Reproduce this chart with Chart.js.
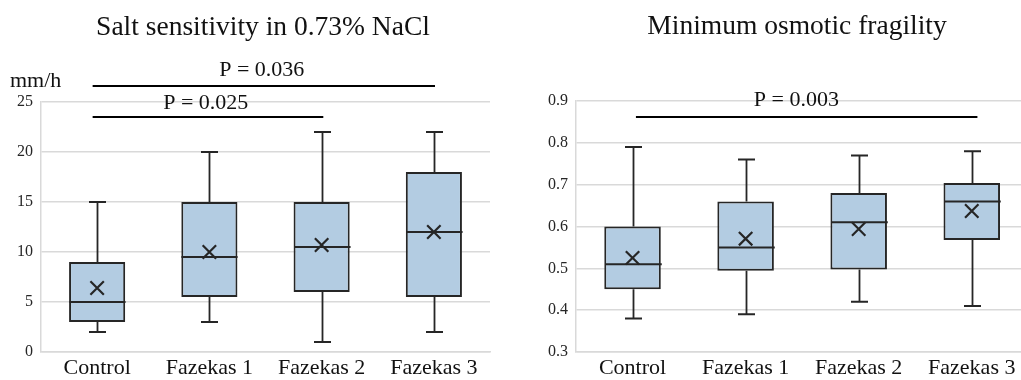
<!DOCTYPE html>
<html><head><meta charset="utf-8">
<script src="https://cdn.jsdelivr.net/npm/chart.js@4/dist/chart.umd.min.js"></script>
<style>
html,body{margin:0;padding:0;background:#fff;width:1021px;height:380px;overflow:hidden}
#wrapL{position:absolute;left:0;top:0;width:510px;height:380px}
#wrapR{position:absolute;left:510px;top:0;width:511px;height:380px;overflow:hidden}
canvas{display:block}
</style></head><body>
<div id="wrapL"><canvas id="cL" width="510" height="380"></canvas></div>
<div id="wrapR"><canvas id="cR" width="530" height="380"></canvas></div>
<script>
// ---------- data ----------
const categories = ['Control', 'Fazekas 1', 'Fazekas 2', 'Fazekas 3'];

const saltTitle = 'Salt sensitivity in 0.73% NaCl';
const saltUnit = 'mm/h';
const saltMin    = [2, 3, 1, 2];
const saltQ1     = [3, 5.5, 6, 5.5];
const saltMedian = [5, 9.5, 10.5, 12];
const saltQ3     = [9, 15, 15, 18];
const saltMax    = [15, 20, 22, 22];
const saltMean   = [6.4, 10, 10.7, 12];
const saltTicks  = [0, 5, 10, 15, 20, 25];
const saltPValues = ['P = 0.036', 'P = 0.025'];

const fragTitle = 'Minimum osmotic fragility';
const fragMin    = [0.38, 0.39, 0.42, 0.41];
const fragQ1     = [0.45, 0.494, 0.497, 0.568];
const fragMedian = [0.51, 0.55, 0.61, 0.66];
const fragQ3     = [0.6, 0.66, 0.68, 0.704];
const fragMax    = [0.79, 0.76, 0.77, 0.78];
const fragMean   = [0.525, 0.571, 0.594, 0.637];
const fragTicks  = [0.3, 0.4, 0.5, 0.6, 0.7, 0.8, 0.9];
const fragPValues = ['P = 0.003'];

// ---------- styling ----------
const SERIF = "'Liberation Serif', 'Times New Roman', serif";
const BOX_FILL = '#b3cce2';
const DARK = '#262626';
const GRID = '#d9d9d9';

const extrasPlugin = {
  id: 'extras',
  afterDatasetDraw(chart, args, opts) {
    if (args.index !== 0) return;
    const { ctx, scales: { x, y } } = chart;
    const s = opts.stats;
    const bars = chart.getDatasetMeta(0).data;
    ctx.save();
    ctx.strokeStyle = DARK;
    ctx.lineCap = 'butt';
    for (let i = 0; i < s.min.length; i++) {
      const cx = Math.round(x.getPixelForValue(i)) + 0.5;
      const w = bars[i].width;
      const yMin = y.getPixelForValue(s.min[i]);
      const yMax = y.getPixelForValue(s.max[i]);
      const yQ1 = y.getPixelForValue(s.q1[i]);
      const yQ3 = y.getPixelForValue(s.q3[i]);
      const yMed = y.getPixelForValue(s.median[i]);
      ctx.lineWidth = 1.8;
      ctx.beginPath();
      ctx.moveTo(cx, yQ3); ctx.lineTo(cx, yMax);
      ctx.moveTo(cx, yQ1); ctx.lineTo(cx, yMin);
      ctx.stroke();
      ctx.lineWidth = 2;
      ctx.beginPath();
      ctx.moveTo(cx - opts.cap / 2, yMax); ctx.lineTo(cx + opts.cap / 2, yMax);
      ctx.moveTo(cx - opts.cap / 2, yMin); ctx.lineTo(cx + opts.cap / 2, yMin);
      ctx.moveTo(cx - w / 2, yMed); ctx.lineTo(cx + w / 2, yMed);
      ctx.stroke();
    }
    ctx.restore();
  },
  afterDraw(chart, args, opts) {
    const { ctx, scales: { x, y } } = chart;
    ctx.save();
    ctx.fillStyle = '#111';
    ctx.textAlign = 'center';
    ctx.textBaseline = 'alphabetic';
    ctx.font = '27.5px ' + SERIF;
    ctx.fillText(opts.title.text, opts.title.x, opts.title.y);
    if (opts.unit) {
      ctx.textAlign = 'left';
      ctx.font = '22px ' + SERIF;
      ctx.fillText(opts.unit.text, opts.unit.x, opts.unit.y);
    }
    ctx.strokeStyle = '#000';
    ctx.lineWidth = 2;
    ctx.font = '22px ' + SERIF;
    ctx.textAlign = 'center';
    for (const b of opts.brackets) {
      const yy = Math.round(y.getPixelForValue(b.y));
      ctx.beginPath();
      ctx.moveTo(x.getPixelForValue(b.x1), yy);
      ctx.lineTo(x.getPixelForValue(b.x2), yy);
      ctx.stroke();
      ctx.fillText(b.text, x.getPixelForValue(b.tx), y.getPixelForValue(b.ty));
    }
    ctx.restore();
  }
};

function makeChart(id, d) {
  return new Chart(document.getElementById(id), {
    type: 'bar',
    data: {
      labels: categories,
      datasets: [
        {
          data: categories.map((c, i) => [d.q1[i], d.q3[i]]),
          backgroundColor: BOX_FILL,
          borderColor: DARK,
          borderWidth: 2,
          borderSkipped: false,
          barPercentage: 0.5,
          categoryPercentage: 1.0,
          order: 2
        },
        {
          type: 'line',
          data: d.mean,
          showLine: false,
          pointStyle: 'crossRot',
          pointRadius: 9.5,
          pointBorderColor: DARK,
          pointBackgroundColor: 'rgba(0,0,0,0)',
          pointBorderWidth: 2.2,
          order: 1
        }
      ]
    },
    options: {
      responsive: false,
      devicePixelRatio: 1,
      animation: false,
      layout: { padding: { top: d.padTop, right: d.padRight, left: 0, bottom: 0 } },
      plugins: {
        legend: { display: false },
        tooltip: { enabled: false },
        extras: {
          stats: { min: d.min, q1: d.q1, median: d.median, q3: d.q3, max: d.max },
          cap: 17,
          title: d.title,
          unit: d.unit,
          brackets: d.brackets
        }
      },
      scales: {
        x: {
          grid: { display: false, drawTicks: false },
          border: { display: true, color: GRID, width: 1.5 },
          ticks: { font: { family: SERIF, size: 22 }, color: '#111', padding: 3, autoSkip: false, maxRotation: 0 },
          afterFit(s) { s.height = 28; }
        },
        y: {
          min: d.ticks[0],
          max: d.ticks[d.ticks.length - 1],
          afterBuildTicks(s) { s.ticks = d.ticks.map(v => ({ value: v })); },
          ticks: { font: { family: SERIF, size: 16 }, color: '#262626', padding: 8, callback: d.fmt },
          grid: { color: GRID, lineWidth: 1.5, drawTicks: false },
          border: { display: true, color: GRID, width: 1.5 },
          afterFit(s) { s.width = d.yWidth; }
        }
      }
    },
    plugins: [extrasPlugin]
  });
}

makeChart('cL', {
  min: saltMin, q1: saltQ1, median: saltMedian, q3: saltQ3, max: saltMax, mean: saltMean,
  ticks: saltTicks, fmt: v => String(v),
  padTop: 102, padRight: 20, yWidth: 41,
  title: { text: saltTitle, x: 263, y: 35 },
  unit: { text: saltUnit, x: 10, y: 87 },
  brackets: [
    { text: saltPValues[0], x1: -0.04, x2: 3.01, y: 26.64, tx: 1.467, ty: 27.57 },
    { text: saltPValues[1], x1: -0.04, x2: 2.015, y: 23.47, tx: 0.968, ty: 24.27 }
  ]
});

makeChart('cR', {
  min: fragMin, q1: fragQ1, median: fragMedian, q3: fragQ3, max: fragMax, mean: fragMean,
  ticks: fragTicks, fmt: v => Number(v).toFixed(1),
  padTop: 101, padRight: 11, yWidth: 66,
  title: { text: fragTitle, x: 287, y: 33.5 },
  unit: null,
  brackets: [
    { text: fragPValues[0], x1: 0.03, x2: 3.05, y: 0.862, tx: 1.449, ty: 0.887 }
  ]
});
</script>
</body></html>
